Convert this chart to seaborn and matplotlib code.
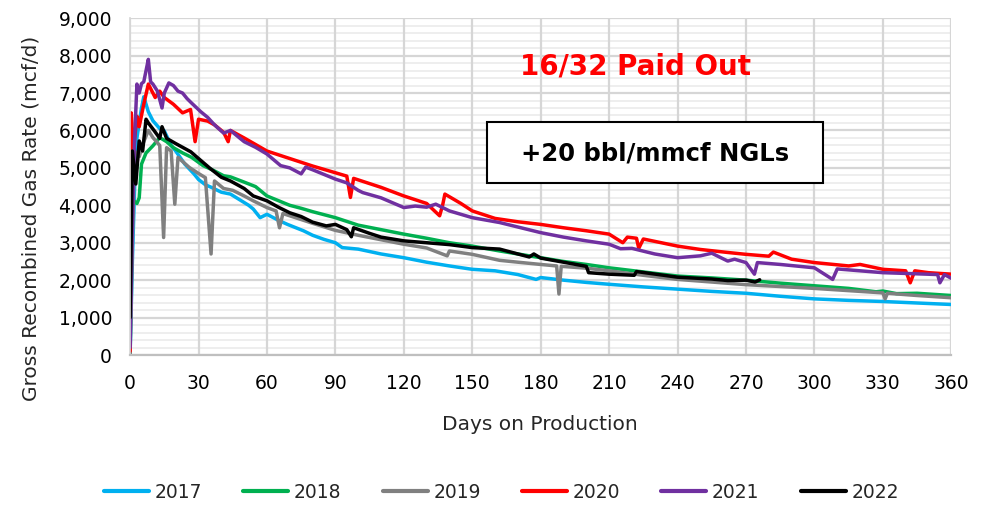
import matplotlib
matplotlib.use("Agg")
import matplotlib.pyplot as plt
import matplotlib.ticker as mticker
from matplotlib.patches import Rectangle
import seaborn as sns
import pandas as pd

# dados (dias de producao, taxa de gas em mcf/d)
years = ["2017", "2018", "2019", "2020", "2021", "2022"]
colors = ["#00B0F0", "#00B050", "#808080", "#FF0000", "#7030A0", "#000000"]

days_2017 = [0, 1, 2, 3, 5, 6, 8, 10, 13, 15, 18, 20, 24, 28, 30, 33, 36, 40, 44, 48, 52, 54, 57, 60, 65,
             69, 76, 80, 85, 90, 93, 100, 110, 120, 130, 140, 150, 160, 170, 178, 180, 190, 200, 210, 225,
             240, 255, 270, 285, 300, 315, 330, 345, 360]
rate_2017 = [0, 2500, 4500, 5800, 6600, 6900, 6500, 6260, 6050, 5990, 5600, 5450, 5100, 4840, 4690, 4550,
             4470, 4350, 4300, 4150, 4000, 3900, 3670, 3760, 3600, 3490, 3320, 3200, 3090, 3000, 2870, 2830,
             2700, 2600, 2480, 2380, 2290, 2250, 2150, 2020, 2070, 2000, 1940, 1890, 1820, 1760, 1700, 1650,
             1570, 1500, 1460, 1430, 1390, 1350]

days_2018 = [0, 1, 2, 3, 4, 5, 7, 10, 13, 16, 19, 23, 27, 32, 36, 41, 44, 50, 55, 60, 66, 70, 75, 80, 90,
             100, 110, 120, 130, 140, 150, 162, 170, 180, 190, 200, 210, 225, 240, 255, 270, 285, 300, 315,
             327, 330, 336, 345, 360]
rate_2018 = [0, 4000, 4100, 4050, 4200, 5100, 5400, 5590, 5810, 5700, 5540, 5400, 5280, 5060, 4950, 4790,
             4760, 4620, 4500, 4250, 4100, 4000, 3920, 3830, 3670, 3470, 3350, 3230, 3120, 3000, 2910, 2780,
             2700, 2600, 2500, 2420, 2330, 2220, 2110, 2060, 2000, 1920, 1850, 1780, 1690, 1710, 1640, 1650,
             1590]

days_2019 = [0, 1, 2, 4, 6, 8, 10, 13, 14.7, 16, 18, 19.6, 21, 26, 30, 33, 35.5, 37, 41, 45, 50, 54, 60,
             64, 65.5, 67, 75, 80, 90, 100, 110, 120, 130, 139, 140, 150, 162, 170, 180, 187, 188, 189, 200,
             210, 225, 240, 255, 270, 285, 300, 315, 330, 331, 332, 345, 360]
rate_2019 = [0, 3000, 5450, 5300, 5700, 6000, 5810, 5600, 3140, 5540, 5450, 4030, 5280, 5010, 4850, 4740,
             2700, 4650, 4450, 4400, 4250, 4120, 3940, 3850, 3400, 3780, 3620, 3520, 3330, 3200, 3080, 2960,
             2860, 2650, 2780, 2690, 2530, 2480, 2420, 2380, 1630, 2370, 2320, 2250, 2130, 2020, 1950, 1880,
             1830, 1780, 1720, 1660, 1500, 1650, 1590, 1530]

days_2020 = [0, 0.5, 1.5, 3, 4, 6, 8, 11, 13, 15, 19, 23, 26.5, 28.5, 30, 34, 37, 41, 43, 44, 50, 60, 70,
             80, 90, 95, 96.6, 98, 105, 110, 120, 130, 135.7, 137, 138, 145, 150, 160, 170, 180, 190, 200,
             210, 216, 218, 222, 223, 225, 240, 250, 262, 270, 280, 282, 290, 300, 315, 320, 330, 340, 342,
             344, 350, 360]
rate_2020 = [100, 6470, 5500, 6380, 6100, 6700, 7240, 6880, 7050, 6880, 6700, 6470, 6560, 5700, 6300, 6250,
             6150, 5950, 5700, 6000, 5800, 5450, 5250, 5050, 4870, 4780, 4210, 4720, 4580, 4480, 4250, 4050,
             3720, 4000, 4300, 4050, 3850, 3650, 3560, 3490, 3400, 3320, 3230, 3000, 3150, 3120, 2850, 3100,
             2910, 2820, 2740, 2690, 2640, 2750, 2560, 2470, 2380, 2420, 2290, 2250, 1930, 2250, 2200, 2160]

days_2021 = [0, 1, 2, 3, 4, 5, 6, 7, 8, 9, 10, 12, 14, 15, 17, 19, 21, 23, 25, 27, 31, 34, 37, 41, 44, 50,
             55, 60, 66, 70, 75, 77, 80, 90, 95, 100, 102, 110, 120, 125, 130, 134, 140, 150, 162, 170, 180,
             190, 200, 210, 215, 220, 230, 240, 250, 255, 262, 265, 270, 273.7, 275, 285, 300, 308, 310,
             330, 340, 354, 355, 357, 360]
rate_2021 = [200, 3500, 5800, 7240, 7000, 7250, 7300, 7600, 7900, 7300, 7240, 7050, 6600, 7000, 7270, 7200,
             7050, 7000, 6850, 6730, 6500, 6350, 6150, 5930, 6000, 5700, 5550, 5370, 5060, 5000, 4840, 5020,
             4950, 4700, 4600, 4400, 4340, 4200, 3940, 3980, 3950, 4030, 3850, 3670, 3540, 3420, 3270, 3150,
             3050, 2960, 2840, 2850, 2700, 2600, 2650, 2720, 2510, 2560, 2470, 2160, 2470, 2420, 2330, 2020,
             2300, 2200, 2180, 2150, 1930, 2150, 2050]

days_2022 = [0, 1, 2.5, 4, 5.5, 7, 8, 10.5, 13, 14, 16, 20, 26.6, 30, 35, 40, 44, 50, 54, 60, 65, 70, 75,
             80, 86, 90, 95, 97, 98, 105, 110, 120, 130, 140, 150, 162, 170, 175, 177, 180, 190, 200, 201,
             210, 221, 222, 240, 255, 262, 270, 274, 276]
rate_2022 = [1000, 5450, 4570, 5720, 5450, 6300, 6200, 6000, 5790, 6100, 5790, 5650, 5430, 5250, 4990, 4750,
             4650, 4450, 4250, 4120, 3950, 3800, 3700, 3550, 3450, 3490, 3350, 3160, 3400, 3250, 3150, 3050,
             3000, 2950, 2870, 2830, 2700, 2620, 2700, 2590, 2480, 2370, 2200, 2160, 2130, 2230, 2080, 2030,
             1990, 2000, 1950, 2010]

all_days = [days_2017, days_2018, days_2019, days_2020, days_2021, days_2022]
all_rates = [rate_2017, rate_2018, rate_2019, rate_2020, rate_2021, rate_2022]

frames = []
for ano, d, r in zip(years, all_days, all_rates):
    frames.append(pd.DataFrame({"dia": d, "taxa": r, "ano": ano}))
df = pd.concat(frames, ignore_index=True)

sns.set_theme(style="white")
plt.rcParams["font.family"] = ["DejaVu Sans"]

fig = plt.figure(figsize=(9.93, 5.05), dpi=100)
ax = fig.add_axes([0.131, 0.297, 0.827, 0.667])

sns.lineplot(data=df, x="dia", y="taxa", hue="ano", palette=dict(zip(years, colors)),
             estimator=None, linewidth=2.5, ax=ax, legend=False)

ax.set_xlim(0, 360)
ax.set_ylim(0, 9000)
ax.xaxis.set_major_locator(mticker.MultipleLocator(30))
ax.yaxis.set_major_locator(mticker.MultipleLocator(1000))
ax.yaxis.set_minor_locator(mticker.MultipleLocator(200))
ax.yaxis.set_major_formatter(mticker.StrMethodFormatter("{x:,.0f}"))
ax.grid(which="minor", axis="y", color="#EDEDED", linewidth=1.3)
ax.grid(which="major", axis="both", color="#D6D6D6", linewidth=1.6)
ax.set_axisbelow(True)
# linhas verticais por cima das linhas menores horizontais
ax.yaxis.set_zorder(0.3)
ax.xaxis.set_zorder(0.4)
for s in ["top", "right"]:
    ax.spines[s].set_visible(False)
ax.spines["left"].set_color("#D6D6D6")
ax.spines["bottom"].set_color("#BFBFBF")
ax.spines["bottom"].set_linewidth(1.6)
ax.tick_params(axis="both", which="both", length=0, labelsize=13.5, colors="black")
ax.tick_params(axis="y", pad=13)
ax.tick_params(axis="x", pad=14)
ax.set_xlabel("")
ax.set_ylabel("")

fig.text(0.544, 0.160, "Days on Production", fontsize=14.5, ha="center", va="center")
fig.text(0.031, 0.568, "Gross Recombined Gas Rate (mcf/d)", fontsize=14.5, ha="center", va="center",
         rotation=90)

ax.text(0.615, 0.857, "16/32 Paid Out", transform=ax.transAxes, ha="center", va="center",
        color="#FF0000", fontsize=20, fontweight="bold")
ax.add_patch(Rectangle((0.435, 0.51), 0.409, 0.181, transform=ax.transAxes, facecolor="white",
                       edgecolor="black", linewidth=1.5, zorder=5))
ax.text(0.639, 0.598, "+20 bbl/mmcf NGLs", transform=ax.transAxes, ha="center", va="center",
        color="black", fontsize=17.5, fontweight="bold", zorder=6)

handles = [plt.Line2D([], [], color=c, linewidth=3) for c in colors]
fig.legend(handles, years, loc="center", bbox_to_anchor=(0.505, 0.025), ncol=6, frameon=False,
           fontsize=13.5, handlelength=2.4, handletextpad=0.3, columnspacing=2.2)

plt.savefig("out.png", dpi=100)
